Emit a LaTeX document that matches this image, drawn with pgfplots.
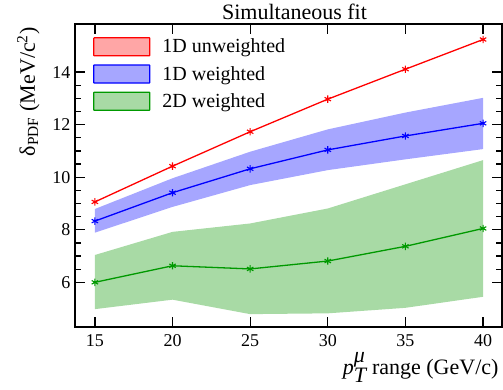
\documentclass[border=0pt]{standalone}
\usepackage{pgfplots}
\pgfplotsset{compat=1.18}
\usepackage{fontspec}
\setmainfont{Liberation Serif}
\definecolor{bandblue}{RGB}{166,166,255}
\definecolor{bandgreen}{RGB}{168,218,165}
\definecolor{bandred}{RGB}{255,166,166}
\definecolor{linegreen}{RGB}{0,153,0}
\begin{document}
\begin{tikzpicture}
\begin{axis}[name=ax, scale only axis, width=427pt, height=303pt,
  xmin=13.72, xmax=41.22, ymin=4.30, ymax=15.83,
  xtick={15,20,25,30,35,40}, ytick={6,8,10,12,14}, minor y tick num=3,
  tick align=inside, major tick length=10pt, minor tick length=6pt,
  every tick/.style={line width=1.3pt, black},
  axis line style={line width=1.6pt},
  axis on top,
  /pgf/number format/assume math mode=true,
  ticklabel style={font=\fontsize{18}{20}\selectfont},
  xticklabel style={yshift=-4pt},
  yticklabel style={xshift=-1pt},
  every axis title shift=0pt,
  title={Simultaneous fit},
  title style={font=\fontsize{22}{24}\selectfont, at={([xshift=6pt,yshift=5pt]axis description cs:0.5,1)}, anchor=base},
  xlabel={$\textit{p}_{\textit{T}}^{\textit{μ}}$ range (GeV/c)},
  xlabel style={font=\fontsize{22}{24}\selectfont, at={([yshift=-47pt]axis description cs:1,0)}, anchor=base east},
  ylabel={δ\textsubscript{PDF} (MeV/c\textsuperscript{2})},
  ylabel style={font=\fontsize{22}{24}\selectfont, at={([xshift=-40pt]axis description cs:0,1)}, anchor=base east, rotate=0},
  legend style={draw=none, fill=none, at={([xshift=18pt,yshift=-13pt]axis description cs:0,1)}, anchor=north west,
    inner sep=0pt, font=\fontsize{20}{22}\selectfont, row sep=8pt, legend cell align=left,
    nodes={inner sep=0pt}},
]
% legend entries
\addlegendimage{legend image code/.code={\draw[draw=red,fill=bandred,line width=1.2pt,rounded corners=0.5pt] (0pt,-9pt) rectangle (56pt,9pt);}}
\addlegendentry{\hspace{12pt}1D unweighted}
\addlegendimage{legend image code/.code={\draw[draw=blue,fill=bandblue,line width=1.2pt,rounded corners=0.5pt] (0pt,-9pt) rectangle (56pt,9pt);}}
\addlegendentry{\hspace{12pt}1D weighted}
\addlegendimage{legend image code/.code={\draw[draw=linegreen,fill=bandgreen,line width=1.2pt,rounded corners=0.5pt] (0pt,-9pt) rectangle (56pt,9pt);}}
\addlegendentry{\hspace{12pt}2D weighted}
% bands
\addplot[draw=none, fill=bandgreen, forget plot] coordinates {
 (15,7.04) (20,7.92) (25,8.24) (30,8.81) (35,9.73) (40,10.65)
 (40,5.45) (35,5.03) (30,4.82) (25,4.79) (20,5.34) (15,4.98)} -- cycle;
\addplot[draw=none, fill=bandblue, forget plot] coordinates {
 (15,8.79) (20,9.96) (25,10.97) (30,11.82) (35,12.46) (40,13.02)
 (40,11.07) (35,10.68) (30,10.27) (25,9.70) (20,8.87) (15,7.89)} -- cycle;
% central lines
\addplot[red, line width=1.3pt, mark=asterisk, mark size=3.7pt, mark options={line width=1.1pt}, forget plot] coordinates {
 (15,9.06) (20,10.42) (25,11.73) (30,12.97) (35,14.11) (40,15.24)};
\addplot[blue, line width=1.3pt, mark=asterisk, mark size=3.7pt, mark options={line width=1.1pt}, forget plot] coordinates {
 (15,8.33) (20,9.41) (25,10.32) (30,11.04) (35,11.57) (40,12.05)};
\addplot[linegreen, line width=1.3pt, mark=asterisk, mark size=3.7pt, mark options={line width=1.1pt}, forget plot] coordinates {
 (15,6.00) (20,6.63) (25,6.51) (30,6.81) (35,7.37) (40,8.05)};
\end{axis}
\pgfresetboundingbox
\path ([shift={(-75pt,-62pt)}]ax.south west) rectangle ([shift={(1pt,24pt)}]ax.north east);
\end{tikzpicture}
\end{document}
